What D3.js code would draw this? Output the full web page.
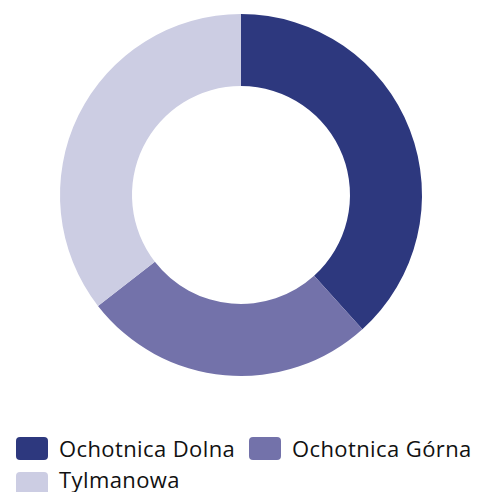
<!DOCTYPE html>
<html>
<head>
<meta charset="utf-8">
<script src="https://cdn.jsdelivr.net/npm/d3@7"></script>
<style>
  body { margin: 0; background: #fff; }
  svg { display: block; }
</style>
</head>
<body>
<div id="chart"></div>
<script>
// values (shares of the ring)
const categories = ['Ochotnica Dolna', 'Ochotnica Górna', 'Tylmanowa'];
const values = [38.3, 26.2, 35.5];
const colors = ['#2d387e', '#7372aa', '#cccde3'];

const width = 483, height = 492;
const cx = 241, cy = 195, outerR = 181, innerR = 109;

const svg = d3.select('#chart').append('svg')
    .attr('width', width).attr('height', height);

const pie = d3.pie().sort(null).value(d => d.value);
const arc = d3.arc().innerRadius(innerR).outerRadius(outerR);
const color = d3.scaleOrdinal().domain(categories).range(colors);

const data = categories.map((c, i) => ({ name: c, value: values[i] }));

svg.append('g')
    .attr('transform', `translate(${cx},${cy})`)
    .selectAll('path')
    .data(pie(data))
    .join('path')
    .attr('d', arc)
    .attr('fill', d => color(d.data.name));

// legend
const legendPos = [
    { x: 16, y: 437, base: 457 },
    { x: 249, y: 437, base: 457 },
    { x: 16, y: 472, base: 488 }
];
const lg = svg.append('g').selectAll('g')
    .data(categories)
    .join('g')
    .attr('transform', (d, i) => `translate(${legendPos[i].x},0)`);

lg.append('rect')
    .attr('y', (d, i) => legendPos[i].y)
    .attr('width', 32).attr('height', 23)
    .attr('rx', 4).attr('ry', 4)
    .attr('fill', d => color(d));

lg.append('text')
    .attr('x', 43)
    .attr('y', (d, i) => legendPos[i].base)
    .attr('font-family', 'Open Sans, sans-serif')
    .attr('font-size', 22)
    .attr('letter-spacing', 0.4)
    .attr('fill', '#111')
    .text(d => d);
</script>
</body>
</html>
